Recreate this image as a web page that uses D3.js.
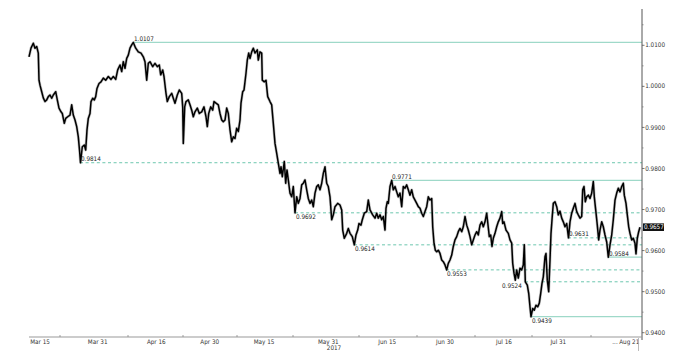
<!DOCTYPE html>
<html>
<head>
<meta charset="utf-8">
<script src="https://cdn.jsdelivr.net/npm/d3@7"></script>
<style>
html,body{margin:0;padding:0;background:#fff;}
svg{display:block;}
text{font-family:"DejaVu Sans Condensed","DejaVu Sans",sans-serif;}
</style>
</head>
<body>
<svg id="chart" width="679" height="358"></svg>
<script>
// ---------------- DATA ----------------
// bar index (session units) and close price
const bars = [0,2,4.3,6,7.7,9.3,10,11,12.7,14.3,16,17.7,19.3,21,22.7,24.3,26.7,28.3,30,32,33.3,35.3,36.7,38.7,41,42.7,44.3,46,47.7,49.3,50.5,51.5,53.3,55.3,56.7,58,59.3,61,62,63.7,65.3,66.7,68,70,72,74.3,76.7,79.3,82,84.3,86.7,88.7,91,92.7,94.3,96,97.7,99.3,101,102.7,104.3,106.7,109.3,112,114.3,116,117.7,119.3,121,123.7,126,128.3,130.3,131.7,133.7,135,137,138.3,140.3,142.7,144.3,146,148.3,150.3,152.7,153.7,154.3,155.7,157,159.3,161,162.7,164.3,166,168.3,170.3,172.7,175,177,178.3,179.7,181.7,183.7,185,187,189.3,191,192.7,194.3,196,197.7,199.3,201,202.7,204.3,206,207.7,209.3,211,212,213.7,215,217,218.3,219.7,221,222.7,224.3,226,228.3,229.3,231,232.7,233.3,235.3,237,238.7,241,242.7,244.3,246,247.7,249.3,251,252,253.3,255.3,256.7,258,259.3,261,262.7,264.3,266,267.7,269.3,271,272.7,274.3,276,277.7,279.3,281,282.7,284.3,286,287.7,289.3,291,292.7,294.3,296,297.7,299.3,301,302.7,304.3,306,308.7,311,312.7,313.7,315.3,317.7,319.3,321,323.3,325.3,327,328.7,330,332,333.3,335.3,337.7,339.3,341,343.7,346,347.7,349.3,351,352.7,354.3,356,357,358.3,359.3,361,362.7,364.3,366,367.7,369.3,371,372.7,374.3,376,377.7,379.3,381,382.7,384.3,386,387.7,389.3,391,392.7,394.3,396,397.7,399.3,401,402.7,403.7,405,406.3,407.7,409.3,411,412.7,414.3,416,417.7,419.3,421,422.7,424.3,426,427.7,429.3,431,432.7,434.3,436,437.7,439.3,441,442.7,444.3,446,447.7,449.3,451,452.7,454.3,456,457.7,460.3,461.7,463,464.3,466,467.7,469.3,471,472.7,473.7,475,477,479.3,481,482.7,483.7,485,486.3,487.7,489.3,491,492.7,494.3,495.3,496.3,498.3,499.7,501,502,503.7,505.3,507,508.7,510.3,511.7,513,514.3,516,517,518.3,519.7,521,522,523,524.3,526,527.7,529.3,531,532.7,534.3,536,537.7,539.5,541,542.7,544.3,546,547.7,549.3,551,552.7,553.7,555,556.3,557.7,559.3,561,562.7,564.3,565.3,566.7,568.3,569.7,571,572.7,574.3,576,577.7,579.3,581,582.7,584.3,586,587.7,589.3,591,592.7,594.3,595.3,597,598.3,599.7,601,602.7,604.3,606,607,608.3,609.7,611];
const prices = [1.0072,1.0093,1.0105,1.0093,1.0097,1.0081,1.0015,1.0003,0.9987,0.9972,0.9963,0.9967,0.9975,0.9979,0.9971,0.9979,0.9987,0.9967,0.9947,0.9938,0.9934,0.9910,0.9922,0.9926,0.9930,0.9955,0.9930,0.9918,0.9902,0.9877,0.9845,0.9814,0.9853,0.9857,0.9845,0.9894,0.9922,0.9934,0.9963,0.9971,0.9967,0.9975,0.9995,1.0007,1.0011,1.0020,1.0015,1.0024,1.0017,1.0024,1.0017,1.0040,1.0052,1.0036,1.0060,1.0044,1.0068,1.0076,1.0093,1.0101,1.0107,1.0093,1.0084,1.0081,1.0072,1.0060,1.0015,1.0056,1.0060,1.0048,1.0056,1.0048,1.0052,1.0028,1.0040,1.0024,0.9983,0.9963,0.9975,0.9983,0.9971,0.9959,0.9979,0.9991,0.9983,0.9950,0.9861,0.9950,0.9963,0.9967,0.9955,0.9942,0.9926,0.9938,0.9947,0.9934,0.9938,0.9950,0.9926,0.9902,0.9934,0.9950,0.9942,0.9963,0.9959,0.9955,0.9934,0.9918,0.9914,0.9918,0.9947,0.9934,0.9894,0.9865,0.9877,0.9873,0.9898,0.9890,0.9918,0.9959,0.9987,0.9991,1.0032,1.0064,1.0081,1.0068,1.0084,1.0093,1.0081,1.0089,1.0064,1.0084,1.0081,1.0015,1.0011,1.0015,0.9975,0.9963,0.9955,0.9910,0.9861,0.9837,0.9813,0.9788,0.9804,0.9780,0.9817,0.9764,0.9796,0.9772,0.9740,0.9731,0.9756,0.9692,0.9731,0.9715,0.9727,0.9760,0.9764,0.9772,0.9748,0.9727,0.9715,0.9723,0.9707,0.9740,0.9756,0.9760,0.9748,0.9764,0.9788,0.9804,0.9764,0.9756,0.9731,0.9675,0.9687,0.9707,0.9715,0.9711,0.9699,0.9650,0.9630,0.9642,0.9654,0.9642,0.9634,0.9614,0.9638,0.9650,0.9666,0.9662,0.9675,0.9691,0.9695,0.9723,0.9699,0.9687,0.9679,0.9691,0.9679,0.9687,0.9675,0.9683,0.9650,0.9703,0.9719,0.9715,0.9756,0.9771,0.9748,0.9756,0.9743,0.9731,0.9740,0.9707,0.9756,0.9752,0.9760,0.9748,0.9735,0.9748,0.9731,0.9723,0.9715,0.9707,0.9703,0.9691,0.9683,0.9695,0.9707,0.9731,0.9723,0.9727,0.9658,0.9618,0.9601,0.9597,0.9601,0.9593,0.9577,0.9573,0.9565,0.9553,0.9569,0.9577,0.9589,0.9610,0.9626,0.9634,0.9646,0.9654,0.9646,0.9658,0.9683,0.9662,0.9650,0.9634,0.9614,0.9626,0.9638,0.9646,0.9638,0.9662,0.9670,0.9658,0.9670,0.9691,0.9634,0.9638,0.9610,0.9630,0.9642,0.9658,0.9670,0.9679,0.9695,0.9666,0.9670,0.9650,0.9642,0.9626,0.9618,0.9569,0.9545,0.9528,0.9553,0.9533,0.9557,0.9553,0.9565,0.9614,0.9524,0.9516,0.9496,0.9463,0.9439,0.9459,0.9455,0.9467,0.9463,0.9472,0.9496,0.9520,0.9536,0.9585,0.9593,0.9528,0.9500,0.9577,0.9642,0.9675,0.9715,0.9719,0.9707,0.9687,0.9696,0.9679,0.9670,0.9658,0.9666,0.9631,0.9670,0.9691,0.9703,0.9715,0.9695,0.9687,0.9679,0.9683,0.9748,0.9756,0.9719,0.9731,0.9735,0.9727,0.9740,0.9768,0.9731,0.9699,0.9662,0.9626,0.9650,0.9670,0.9658,0.9638,0.9621,0.9584,0.9614,0.9638,0.9675,0.9723,0.9740,0.9752,0.9743,0.9756,0.9764,0.9735,0.9715,0.9687,0.9658,0.9642,0.9626,0.9630,0.9618,0.9592,0.9630,0.9646,0.9657];

// x-axis date labels and the bar index they sit at
const dateLabels = ["Mar 15","Mar 31","Apr 16","Apr 30","May 15","May 31","Jun 15","Jun 30","Jul 16","Jul 31","...","Aug 21"];
const dateBars   = [11, 68.7, 127.3, 180.7, 235, 299.3, 358.3, 416, 475, 529.3, 586, 600.3];
const minorBars  = [31, 99, 154, 208, 264, 330, 388, 446, 503, 562];
const yearLabel = "2017";
const yearBar = 305;

// y-axis ticks
const yMajorTicks = [0.9400,0.9500,0.9600,0.9700,0.9800,0.9900,1.0000,1.0100];
const yMinorTicks = [0.9450,0.9550,0.9650,0.9750,0.9850,0.9950,1.0050,1.0150];

// support / resistance levels
const levelValues = [1.0107,0.9814,0.9771,0.9692,0.9631,0.9614,0.9584,0.9553,0.9524,0.9439];
const levelFrom   = [104,51,362,266,539,325,579,417,496,502];
const levelIntact = [true,false,true,false,false,false,true,false,false,true];

const lastPrice = 0.9657;

// ---------------- DRAW ----------------
const svg = d3.select("#chart");
const x = d3.scaleLinear().domain([0, 611]).range([29, 640]);
const y = d3.scaleLinear().domain([0.9400, 1.0100]).range([332.7, 45.3]);
const axisX = 642, axisTop = 9, axisBottom = 337;

// levels
const labelAbove = new Set([1.0107, 0.9814, 0.9771, 0.9631, 0.9584]);
const labelLeft = new Set([0.9524]);
const lv = levelValues.map((v,i)=>({v, from: levelFrom[i], intact: levelIntact[i]}));
svg.append("g").selectAll("line").data(lv).join("line")
  .attr("x1", d=>x(d.from)).attr("x2", axisX)
  .attr("y1", d=>y(d.v)).attr("y2", d=>y(d.v))
  .attr("stroke", d=>d.intact ? "#9fd9c9" : "#5bbfa5")
  .attr("stroke-width", d=>d.intact ? 1.2 : 0.9)
  .attr("stroke-dasharray", d=>d.intact ? null : "3,2.6");

// price line
const pts = bars.map((b,i)=>[b, prices[i]]);
const line = d3.line().x(d=>x(d[0])).y(d=>y(d[1]));
svg.append("path").attr("d", line(pts)).attr("fill","none")
  .attr("stroke","#777").attr("stroke-width",2.8).attr("stroke-opacity",0.45).attr("stroke-linejoin","round");
svg.append("path").attr("d", line(pts)).attr("fill","none")
  .attr("stroke","#000").attr("stroke-width",1.5).attr("stroke-linejoin","round");

// level labels
svg.append("g").selectAll("text").data(lv).join("text")
  .attr("x", d=> labelLeft.has(d.v) ? x(d.from) - 23 : x(d.from) + 1)
  .attr("y", d=> labelAbove.has(d.v) ? y(d.v) - 1.5 : y(d.v) + 6.6)
  .attr("font-size", 6.3).attr("fill", "#222")
  .text(d=>d.v.toFixed(4));

// y axis
const gy = svg.append("g");
gy.append("line").attr("x1",axisX).attr("x2",axisX).attr("y1",axisTop).attr("y2",340)
  .attr("stroke","#555").attr("stroke-width",1);
gy.selectAll("line.mn").data(yMinorTicks).join("line").attr("class","mn")
  .attr("x1",axisX).attr("x2",axisX+1.5).attr("y1",d=>y(d)).attr("y2",d=>y(d))
  .attr("stroke","#777").attr("stroke-width",0.8);
gy.selectAll("line.mj").data(yMajorTicks).join("line").attr("class","mj")
  .attr("x1",axisX).attr("x2",axisX+2.5).attr("y1",d=>y(d)).attr("y2",d=>y(d))
  .attr("stroke","#555").attr("stroke-width",0.8);
gy.selectAll("text").data(yMajorTicks).join("text")
  .attr("x", axisX+3.2).attr("y", d=>y(d)).attr("dy","0.34em")
  .attr("font-size",6.3).attr("fill","#333")
  .text(d=>d.toFixed(4));

// last price tag
const tag = svg.append("g");
tag.append("rect").attr("x",axisX+1).attr("y",y(lastPrice)-3.8).attr("width",21).attr("height",7.6).attr("fill","#111");
tag.append("text").attr("x",axisX+2).attr("y",y(lastPrice)).attr("dy","0.34em")
  .attr("font-size",6.3).attr("fill","#fff").text(lastPrice.toFixed(4));

// x axis
const gx = svg.append("g");
gx.append("line").attr("x1",29).attr("x2",axisX).attr("y1",axisBottom).attr("y2",axisBottom)
  .attr("stroke","#999").attr("stroke-width",1);
gx.selectAll("line.t").data(minorBars).join("line").attr("class","t")
  .attr("x1",d=>x(d)).attr("x2",d=>x(d)).attr("y1",axisBottom-2).attr("y2",axisBottom)
  .attr("stroke","#888").attr("stroke-width",0.8);
gx.selectAll("text.d").data(dateLabels.map((s,i)=>({s,b:dateBars[i]}))).join("text").attr("class","d")
  .attr("x",d=>x(d.b)).attr("y",343.5).attr("text-anchor","middle")
  .attr("font-size",6.3).attr("fill","#333").text(d=>d.s);
gx.append("text").attr("x",x(yearBar)).attr("y",350).attr("text-anchor","middle")
  .attr("font-size",6.3).attr("fill","#333").text(yearLabel);
gx.append("line").attr("x1",638.5).attr("x2",638.5).attr("y1",338).attr("y2",351)
  .attr("stroke","#aaa").attr("stroke-width",0.8);
</script>
</body>
</html>
